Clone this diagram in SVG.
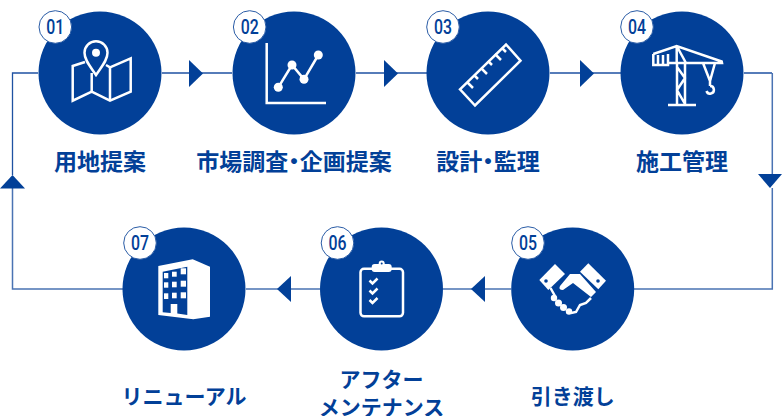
<svg xmlns="http://www.w3.org/2000/svg" width="782" height="416" viewBox="0 0 782 416">
<style>
.c{fill:#024098}
.b{fill:#fff;stroke:#2a5ca6;stroke-width:1}
.n{font-family:"Roboto",sans-serif;font-weight:500;font-size:20px;fill:#024098;text-anchor:middle}
.t{font-family:"Noto Sans CJK JP",sans-serif;font-weight:700;font-size:23px;fill:#024098;text-anchor:middle}
.d{font-feature-settings:"palt"}
.s{font-size:21px}
.w{fill:none;stroke:#fff;stroke-width:2.5}
.f{fill:#fff}
.h{fill:#024098}
.l{fill:none;stroke:#1f52a2;stroke-width:1.300}
.m{fill:none;stroke:#4a73b3;stroke-width:1.500}
.a{fill:#024098}
</style>
<g id="connectors">
<path class="l" d="M38 73H12.500V175M162 73H232M356 73H427M550 73H621M744 73H772"/>
<path class="m" d="M772.300 73V174M772.300 188V289H634M12.500 188V289H123M511 289H443M320 289H246"/>
<polygon class="a" points="189,60 203,73.500 189,87"/>
<polygon class="a" points="384,60 398,73.500 384,87"/>
<polygon class="a" points="580,60 594,73.500 580,87"/>
<polygon class="a" points="758,174 782,174 770,188"/>
<polygon class="a" points="485,276 471,289 485,302"/>
<polygon class="a" points="291,276 277,289 291,302"/>
<polygon class="a" points="0,188.500 25,188.500 12.500,175"/>
</g>
<g id="n1"><circle class="c" cx="100" cy="73" r="61.500"/><circle class="b" cx="55.300" cy="27" r="16.300"/><text class="n" x="55.300" y="34" textLength="18" lengthAdjust="spacingAndGlyphs">01</text>
<path class="w" d="M85 62L72.700 66V100.700L91.700 91.700L110 100.700L130.700 91.700V58.300L110 67.300L106 65"/><path class="w" d="M91.700 73V92M110 67.300V100.700"/><path d="M96 75C90 66 84.500 60 84.500 52.700A11.500 11.500 0 0 1 107.500 52.700C107.500 60 102 66 96 75Z" fill="#024098" stroke="#fff" stroke-width="2.500"/><circle class="f" cx="96" cy="52.700" r="4"/>
<text class="t" x="100" y="169.500">用地提案</text></g>
<g id="n2"><circle class="c" cx="294" cy="73" r="61.500"/><circle class="b" cx="249.700" cy="27" r="16.300"/><text class="n" x="249.700" y="34" textLength="18" lengthAdjust="spacingAndGlyphs">02</text>
<path class="w" d="M266.700 43V103H326"/><path class="w" stroke-width="2" d="M278.300 87.300L292 65L304 79.300L318.300 55"/><circle class="f" cx="278.300" cy="87.300" r="4.500"/><circle class="f" cx="292" cy="65" r="4.500"/><circle class="f" cx="304" cy="79.300" r="4.500"/><circle class="f" cx="318.300" cy="55" r="4.500"/>
<text class="t" x="294" y="169.500">市場調査<tspan class="d">・</tspan>企画提案</text></g>
<g id="n3"><circle class="c" cx="488" cy="73" r="61.500"/><circle class="b" cx="443" cy="27" r="16.300"/><text class="n" x="443" y="34" textLength="18" lengthAdjust="spacingAndGlyphs">03</text>
<path class="w" d="M460 89.300L506 44.500L520.500 60.700L475 105.500Z"/><path class="w" stroke-width="2" d="M467 82L473 88M474 75L478 79M481 68L487 74M488 61L492 65M495 54L501 60M502 48L506 52"/>
<text class="t" x="488" y="169.500">設計<tspan class="d">・</tspan>監理</text></g>
<g id="n4"><circle class="c" cx="682" cy="73" r="61.500"/><circle class="b" cx="637" cy="27" r="16.300"/><text class="n" x="637" y="34" textLength="18" lengthAdjust="spacingAndGlyphs">04</text>
<path class="w" stroke-width="2" d="M653.300 54L676.700 46L721.700 61.500L722 63H668M653.300 54V65H668V54M658 55V64M663 55V64M676.700 46V63M676.700 46L686 63M677 63V105M685 63V105M677 67L685 78L677 90L685 104M703 63L710 81L715 63M710 81V86"/><path class="w" stroke-width="2.500" d="M668 105H696M710 86A3.800 3.800 0 1 1 706.500 91"/>
<text class="t" x="682" y="169.500">施工管理</text></g>
<g id="n5"><circle class="c" cx="572.700" cy="289" r="61.500"/><circle class="b" cx="528" cy="243" r="16.300"/><text class="n" x="528" y="250" textLength="18" lengthAdjust="spacingAndGlyphs">05</text>
<path class="f" d="M539.300 280L555 264L565 274L548.300 290Z"/><circle class="h" cx="546" cy="281" r="1.800"/><path class="f" d="M580 271.700L588.300 263.300L606 280.700L598.300 289.300Z"/><circle class="h" cx="598" cy="281" r="1.800"/>
<path class="f" d="M560 286L570 274L580 274L596 292L591 297L573 283L563 290Q558 290 560 286Z"/>
<path class="w" stroke-width="1.800" d="M550.500 288L555 296M591 298L586 303L580 305L576 312L571 313"/>
<circle class="f" cx="554" cy="298" r="3.200"/><circle class="f" cx="558.500" cy="303" r="3.500"/><circle class="f" cx="563.500" cy="307.500" r="3.500"/><circle class="f" cx="569" cy="311.500" r="3.200"/>
<text class="t s" x="572.700" y="404">引き渡し</text></g>
<g id="n6"><circle class="c" cx="381.500" cy="289" r="61.500"/><circle class="b" cx="337.500" cy="243" r="16.300"/><text class="n" x="337.500" y="250" textLength="18" lengthAdjust="spacingAndGlyphs">06</text>
<rect x="360.500" y="268.800" width="42.500" height="47.500" rx="3.500" class="w"/><rect class="f" x="371.700" y="264" width="20" height="8" rx="3"/><circle class="f" cx="381.700" cy="263.500" r="3"/><circle class="h" cx="381.700" cy="263.500" r="1"/><path class="w" stroke-width="1.800" d="M369.500 280.500L372.500 283.500L377.500 278.500M369.500 290.500L372.500 293.500L377.500 288.500M369.500 300L372.500 303L377.500 298"/>
<text class="t s" x="381.500" y="387">アフター</text><text class="t s" x="381.500" y="414.500">メンテナンス</text></g>
<g id="n7"><circle class="c" cx="184" cy="289" r="61.500"/><circle class="b" cx="140" cy="243" r="16.300"/><text class="n" x="140" y="250" textLength="18" lengthAdjust="spacingAndGlyphs">07</text>
<path class="f" d="M158.300 266L192.700 259.300L210 266.700V316.700L193.300 319.300L158.300 315Z"/><path class="h" d="M162.700 271.700L187.300 266.700V315L177.300 313.500V304H170.700V313L162.700 312.300Z"/>
<g class="f"><rect x="164" y="273" width="4.300" height="5.300"/><rect x="172" y="271.700" width="4.700" height="5"/><rect x="180.700" y="268.300" width="5.300" height="6"/><rect x="164" y="282.300" width="4.300" height="5.400"/><rect x="172" y="281.700" width="4.700" height="5.600"/><rect x="180.700" y="280.700" width="5.300" height="6"/><rect x="164" y="293.300" width="4.300" height="5.700"/><rect x="172" y="292.700" width="4.700" height="5.600"/><rect x="180.700" y="292.300" width="5.300" height="6"/></g>
<text class="t s" x="184" y="404">リニューアル</text></g>
</svg>
